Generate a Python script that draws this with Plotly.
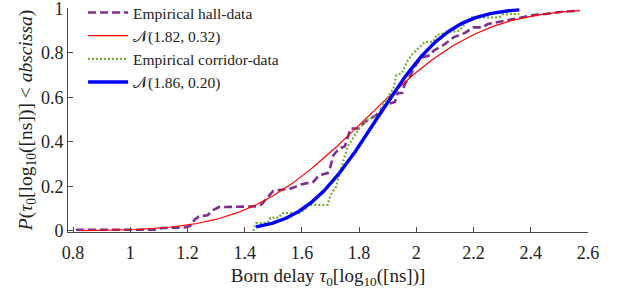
import math
import plotly.graph_objects as go

# ---- data ----
hall_x = [0.81, 1.09, 1.11, 1.19, 1.21, 1.225, 1.24, 1.27, 1.29, 1.31, 1.44, 1.46, 1.48, 1.50, 1.56,
          1.60, 1.64, 1.66, 1.69, 1.70, 1.71, 1.73, 1.75, 1.76, 1.77, 1.80, 1.82, 1.86, 1.88, 1.90,
          1.925, 1.935, 1.95, 1.96, 1.98, 2.00, 2.02, 2.05, 2.06, 2.10, 2.13, 2.17, 2.20, 2.23, 2.25,
          2.29, 2.31, 2.34, 2.37, 2.41, 2.45, 2.48, 2.51, 2.57]
hall_y = [0.005, 0.005, 0.013, 0.015, 0.022, 0.05, 0.065, 0.07, 0.094, 0.107, 0.11, 0.12, 0.15, 0.18, 0.19,
          0.21, 0.22, 0.25, 0.26, 0.29, 0.34, 0.37, 0.38, 0.42, 0.46, 0.46, 0.49, 0.52, 0.55, 0.57,
          0.58, 0.62, 0.62, 0.66, 0.70, 0.75, 0.78, 0.79, 0.81, 0.84, 0.87, 0.89, 0.915, 0.915, 0.93,
          0.94, 0.945, 0.955, 0.96, 0.97, 0.975, 0.98, 0.985, 0.99]

corr_x = [1.43, 1.44, 1.48, 1.49, 1.52, 1.53, 1.59, 1.61, 1.62, 1.69, 1.70, 1.72, 1.73, 1.74, 1.75,
          1.76, 1.78, 1.79, 1.80, 1.83, 1.87, 1.88, 1.90, 1.92, 1.93, 1.95, 1.97, 1.99, 2.01, 2.03,
          2.06, 2.07, 2.10, 2.15, 2.17, 2.19, 2.29, 2.30, 2.36]
corr_y = [0.0, 0.035, 0.035, 0.06, 0.06, 0.08, 0.08, 0.095, 0.117, 0.117, 0.16, 0.20, 0.25, 0.29, 0.34,
          0.38, 0.42, 0.44, 0.46, 0.50, 0.52, 0.56, 0.60, 0.64, 0.70, 0.71, 0.767, 0.80, 0.825, 0.85,
          0.85, 0.88, 0.89, 0.90, 0.93, 0.96, 0.96, 0.973, 0.975]

# normal fits (legend parameters) and the x extent over which each is drawn
fit_mu = [1.82, 1.86]
fit_sigma = [0.32, 0.20]
fit_xmin = [0.83, 1.44]
fit_xmax = [2.57, 2.36]

x_ticks = [0.8, 1, 1.2, 1.4, 1.6, 1.8, 2, 2.2, 2.4, 2.6]
y_ticks = [0, 0.2, 0.4, 0.6, 0.8, 1]


def norm_curve(mu, sigma, a, b, n=200):
    xs = [a + (b - a) * i / (n - 1) for i in range(n)]
    ys = [0.5 * (1 + math.erf((x - mu) / (sigma * math.sqrt(2)))) for x in xs]
    return xs, ys


serif = "Liberation Serif"
txt = "#222222"

fig = go.Figure()
fig.add_trace(go.Scatter(x=hall_x, y=hall_y, mode="lines",
                         name="Empirical hall-data",
                         line=dict(color="#7E2F8E", width=2.6, dash="8px,4px")))
rx, ry = norm_curve(fit_mu[0], fit_sigma[0], fit_xmin[0], fit_xmax[0])
fig.add_trace(go.Scatter(x=rx, y=ry, mode="lines",
                         name="𝒩(1.82, 0.32)",
                         line=dict(color="#FF0000", width=1.2)))
fig.add_trace(go.Scatter(x=corr_x, y=corr_y, mode="lines",
                         name="Empirical corridor-data",
                         line=dict(color="#77AC30", width=2.2, dash="2px,2px")))
bx, by = norm_curve(fit_mu[1], fit_sigma[1], fit_xmin[1], fit_xmax[1])
fig.add_trace(go.Scatter(x=bx, y=by, mode="lines",
                         name="𝒩(1.86, 0.20)",
                         line=dict(color="#0000FF", width=3.4)))

axis_col = "#4a4a4a"
fig.update_layout(
    width=618, height=291,
    margin=dict(l=68, r=30, t=8, b=59, autoexpand=False),
    paper_bgcolor="white", plot_bgcolor="white",
    font=dict(family=serif, size=17, color=txt),
    showlegend=True,
    legend=dict(x=0.029, y=1.054, xanchor="left", yanchor="top",
                bgcolor="rgba(0,0,0,0)", borderwidth=0,
                font=dict(family=serif, size=15.5, color=txt),
                tracegroupgap=0, itemwidth=40),
    xaxis=dict(range=[0.7825, 2.6], tickvals=x_ticks,
               ticktext=[("%g" % v) for v in x_ticks],
               tickfont=dict(family=serif, size=18, color=txt),
               ticklabeloverflow="allow", ticklabelstandoff=4,
               showgrid=False, zeroline=False, showline=True, linecolor=axis_col, linewidth=1,
               ticks="inside", ticklen=5, tickcolor=axis_col, mirror=False,
               title=dict(text="Born delay <i>τ</i><sub>0</sub>[log<sub>10</sub>([ns])]",
                          font=dict(family=serif, size=19, color=txt), standoff=7)),
    yaxis=dict(range=[-0.005, 1.002], tickvals=y_ticks,
               ticktext=[("%g" % v) for v in y_ticks],
               tickfont=dict(family=serif, size=18, color=txt),
               ticklabeloverflow="allow",
               showgrid=False, zeroline=False, showline=True, linecolor=axis_col, linewidth=1,
               ticks="inside", ticklen=5, tickcolor=axis_col, mirror=False,
               title=dict(text="<i>P</i>(<i>τ</i><sub>0</sub>[log<sub>10</sub>([ns])] &lt; <i>abscissa</i>)",
                          font=dict(family=serif, size=19.5, color=txt), standoff=3)),
)

fig.write_html("out.html", config={"displayModeBar": False},
               post_script="document.body.style.margin='0';document.body.style.padding='0';")
